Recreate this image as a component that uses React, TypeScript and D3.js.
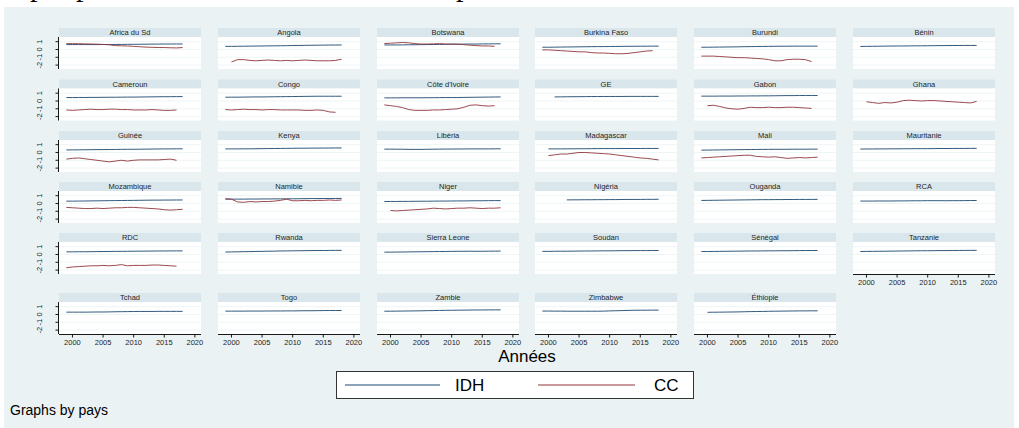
import React from 'react';
import * as d3 from 'd3';

// ---------- data ----------
const years = [1999, 2000, 2001, 2002, 2003, 2004, 2005, 2006, 2007, 2008, 2009, 2010, 2011, 2012, 2013, 2014, 2015, 2016, 2017, 2018];
const xTicks = [2000, 2005, 2010, 2015, 2020];
const yTicks = [-2, -1, 0, 1];

const countries = [
  'Africa du Sd', 'Angola', 'Botswana', 'Burkina Faso', 'Burundi', 'Bénin',
  'Cameroun', 'Congo', "Côte d'Ivoire", 'GE', 'Gabon', 'Ghana',
  'Guinée', 'Kenya', 'Libéria', 'Madagascar', 'Mali', 'Mauritanie',
  'Mozambique', 'Namibie', 'Niger', 'Nigéria', 'Ouganda', 'RCA',
  'RDC', 'Rwanda', 'Sierra Leone', 'Soudan', 'Sénégal', 'Tanzanie',
  'Tchad', 'Togo', 'Zambie', 'Zimbabwe', 'Éthiopie',
];

type S = (number | null)[];
const _ = null;

// IDH (1999..2018)
const idhAfriqueSud: S = [0.63, 0.63, 0.63, 0.63, 0.63, 0.63, 0.635, 0.64, 0.645, 0.65, 0.66, 0.665, 0.67, 0.68, 0.69, 0.695, 0.70, 0.70, 0.705, 0.705];
const idhAngola: S = [0.40, 0.40, 0.41, 0.42, 0.43, 0.44, 0.45, 0.46, 0.47, 0.48, 0.49, 0.51, 0.52, 0.53, 0.54, 0.55, 0.56, 0.57, 0.575, 0.58];
const idhBotswana: S = [0.58, 0.58, 0.58, 0.59, 0.60, 0.61, 0.62, 0.63, 0.64, 0.65, 0.66, 0.67, 0.68, 0.69, 0.70, 0.70, 0.71, 0.72, 0.72, 0.73];
const idhBurkina: S = [0.29, 0.29, 0.30, 0.31, 0.32, 0.33, 0.34, 0.35, 0.36, 0.37, 0.37, 0.38, 0.39, 0.40, 0.41, 0.41, 0.42, 0.42, 0.43, 0.43];
const idhBurundi: S = [0.29, 0.29, 0.30, 0.31, 0.32, 0.33, 0.34, 0.36, 0.37, 0.38, 0.39, 0.40, 0.41, 0.42, 0.42, 0.43, 0.43, 0.43, 0.43, 0.43];
const idhBenin: S = [0.39, 0.40, 0.41, 0.42, 0.43, 0.44, 0.45, 0.45, 0.46, 0.47, 0.47, 0.48, 0.49, 0.50, 0.50, 0.51, 0.51, 0.52, 0.52, 0.52];
const idhCameroun: S = [0.44, 0.44, 0.45, 0.45, 0.46, 0.46, 0.47, 0.48, 0.48, 0.49, 0.50, 0.50, 0.51, 0.52, 0.53, 0.54, 0.55, 0.55, 0.56, 0.56];
const idhCongo: S = [0.48, 0.49, 0.49, 0.50, 0.51, 0.52, 0.52, 0.53, 0.54, 0.55, 0.56, 0.57, 0.58, 0.59, 0.60, 0.61, 0.61, 0.61, 0.61, 0.61];
const idhCotedIvoire: S = [0.40, 0.40, 0.40, 0.41, 0.41, 0.41, 0.41, 0.42, 0.42, 0.43, 0.44, 0.44, 0.44, 0.46, 0.47, 0.48, 0.49, 0.50, 0.51, 0.52];
const idhGE: S = [_, _, 0.52, 0.53, 0.54, 0.55, 0.55, 0.56, 0.57, 0.57, 0.58, 0.58, 0.58, 0.58, 0.59, 0.59, 0.59, 0.59, 0.59, 0.59];
const idhGabon: S = [0.62, 0.62, 0.62, 0.63, 0.63, 0.63, 0.64, 0.64, 0.65, 0.65, 0.66, 0.66, 0.67, 0.68, 0.69, 0.69, 0.70, 0.70, 0.70, 0.70];
const idhGhana: S = [_, _, _, _, _, _, _, _, _, _, _, _, _, _, _, _, _, _, _, _];
const idhGuinee: S = [0.33, 0.33, 0.34, 0.35, 0.36, 0.37, 0.37, 0.38, 0.39, 0.40, 0.41, 0.41, 0.42, 0.43, 0.44, 0.45, 0.46, 0.46, 0.47, 0.47];
const idhKenya: S = [0.46, 0.46, 0.46, 0.47, 0.47, 0.48, 0.49, 0.50, 0.51, 0.52, 0.53, 0.54, 0.55, 0.55, 0.56, 0.56, 0.57, 0.57, 0.58, 0.58];
const idhLiberia: S = [0.43, 0.43, 0.42, 0.42, 0.40, 0.40, 0.40, 0.41, 0.42, 0.43, 0.44, 0.44, 0.45, 0.45, 0.46, 0.46, 0.46, 0.46, 0.47, 0.47];
const idhMadagascar: S = [_, 0.46, 0.46, 0.46, 0.47, 0.47, 0.48, 0.48, 0.49, 0.50, 0.50, 0.50, 0.50, 0.51, 0.51, 0.51, 0.51, 0.52, 0.52, 0.52];
const idhMali: S = [0.30, 0.31, 0.32, 0.33, 0.34, 0.35, 0.36, 0.37, 0.38, 0.39, 0.40, 0.40, 0.41, 0.41, 0.41, 0.42, 0.42, 0.42, 0.43, 0.43];
const idhMauritanie: S = [0.44, 0.45, 0.45, 0.46, 0.46, 0.47, 0.47, 0.48, 0.48, 0.49, 0.49, 0.49, 0.50, 0.51, 0.51, 0.52, 0.52, 0.52, 0.53, 0.53];
const idhMozambique: S = [0.30, 0.30, 0.31, 0.32, 0.33, 0.34, 0.35, 0.36, 0.37, 0.38, 0.39, 0.40, 0.41, 0.42, 0.43, 0.43, 0.44, 0.44, 0.45, 0.45];
const idhNamibie: S = [0.56, 0.56, 0.56, 0.56, 0.57, 0.57, 0.58, 0.58, 0.59, 0.59, 0.60, 0.60, 0.61, 0.62, 0.63, 0.63, 0.64, 0.64, 0.64, 0.65];
const idhNiger: S = [0.25, 0.26, 0.26, 0.27, 0.27, 0.28, 0.29, 0.29, 0.30, 0.31, 0.31, 0.32, 0.33, 0.33, 0.34, 0.35, 0.35, 0.36, 0.37, 0.37];
const idhNigeria: S = [_, _, _, _, 0.46, 0.47, 0.47, 0.48, 0.48, 0.49, 0.49, 0.50, 0.50, 0.51, 0.52, 0.52, 0.52, 0.53, 0.53, 0.54];
const idhOuganda: S = [0.39, 0.40, 0.41, 0.42, 0.43, 0.44, 0.45, 0.46, 0.47, 0.48, 0.49, 0.49, 0.50, 0.50, 0.51, 0.51, 0.52, 0.52, 0.52, 0.53];
const idhRCA: S = [0.31, 0.31, 0.31, 0.32, 0.32, 0.32, 0.33, 0.33, 0.34, 0.35, 0.35, 0.36, 0.36, 0.36, 0.35, 0.36, 0.36, 0.37, 0.38, 0.38];
const idhRDC: S = [0.34, 0.34, 0.35, 0.35, 0.36, 0.37, 0.38, 0.39, 0.40, 0.40, 0.41, 0.42, 0.43, 0.43, 0.44, 0.45, 0.45, 0.46, 0.46, 0.46];
const idhRwanda: S = [0.31, 0.33, 0.34, 0.36, 0.37, 0.39, 0.40, 0.42, 0.43, 0.45, 0.46, 0.47, 0.48, 0.49, 0.50, 0.51, 0.51, 0.52, 0.53, 0.53];
const idhSierraLeone: S = [0.30, 0.30, 0.31, 0.32, 0.33, 0.34, 0.35, 0.36, 0.37, 0.38, 0.39, 0.40, 0.41, 0.41, 0.42, 0.41, 0.41, 0.42, 0.43, 0.44];
const idhSoudan: S = [0.40, 0.40, 0.41, 0.42, 0.42, 0.43, 0.44, 0.45, 0.45, 0.46, 0.47, 0.47, 0.48, 0.49, 0.49, 0.50, 0.50, 0.50, 0.51, 0.51];
const idhSenegal: S = [0.38, 0.38, 0.39, 0.40, 0.41, 0.42, 0.43, 0.44, 0.45, 0.45, 0.46, 0.47, 0.47, 0.48, 0.48, 0.49, 0.50, 0.51, 0.51, 0.51];
const idhTanzanie: S = [0.38, 0.39, 0.40, 0.41, 0.42, 0.43, 0.44, 0.45, 0.46, 0.47, 0.48, 0.48, 0.49, 0.50, 0.50, 0.51, 0.52, 0.52, 0.53, 0.53];
const idhTchad: S = [0.30, 0.30, 0.30, 0.30, 0.31, 0.32, 0.32, 0.33, 0.35, 0.36, 0.37, 0.38, 0.39, 0.39, 0.39, 0.40, 0.40, 0.40, 0.40, 0.40];
const idhTogo: S = [0.43, 0.43, 0.43, 0.43, 0.44, 0.44, 0.44, 0.45, 0.45, 0.45, 0.46, 0.46, 0.47, 0.48, 0.48, 0.49, 0.50, 0.51, 0.51, 0.51];
const idhZambie: S = [0.42, 0.42, 0.43, 0.44, 0.45, 0.46, 0.47, 0.49, 0.50, 0.52, 0.53, 0.54, 0.55, 0.56, 0.57, 0.58, 0.58, 0.59, 0.59, 0.59];
const idhZimbabwe: S = [0.44, 0.44, 0.43, 0.43, 0.42, 0.42, 0.42, 0.42, 0.42, 0.42, 0.43, 0.46, 0.48, 0.50, 0.52, 0.54, 0.55, 0.55, 0.56, 0.56];
const idhEthiopie: S = [_, 0.28, 0.29, 0.30, 0.31, 0.32, 0.33, 0.35, 0.37, 0.38, 0.39, 0.41, 0.42, 0.43, 0.44, 0.45, 0.46, 0.46, 0.47, 0.47];

// CC (1999..2018)
const ccAfriqueSud: S = [0.75, 0.75, 0.74, 0.72, 0.7, 0.68, 0.65, 0.6, 0.5, 0.47, 0.45, 0.4, 0.35, 0.3, 0.28, 0.25, 0.25, 0.22, 0.2, 0.25];
const ccAngola: S = [_, -1.6, -1.3, -1.3, -1.4, -1.45, -1.4, -1.35, -1.4, -1.45, -1.4, -1.45, -1.4, -1.35, -1.4, -1.45, -1.45, -1.45, -1.4, -1.25];
const ccBotswana: S = [0.75, 0.8, 0.85, 0.9, 0.85, 0.75, 0.7, 0.7, 0.72, 0.75, 0.7, 0.7, 0.68, 0.62, 0.55, 0.5, 0.45, 0.45, 0.4, _];
const ccBurkina: S = [-0.05, -0.05, -0.1, -0.15, -0.2, -0.25, -0.3, -0.3, -0.4, -0.45, -0.45, -0.5, -0.55, -0.55, -0.5, -0.4, -0.3, -0.2, -0.15, _];
const ccBurundi: S = [-0.85, -0.85, -0.85, -0.9, -0.95, -1.0, -1.05, -1.05, -1.1, -1.15, -1.2, -1.3, -1.45, -1.45, -1.3, -1.25, -1.25, -1.3, -1.55, _];
const ccCameroun: S = [-1.15, -1.2, -1.15, -1.1, -1.05, -1.1, -1.1, -1.05, -1.05, -1.1, -1.1, -1.15, -1.15, -1.15, -1.1, -1.15, -1.2, -1.2, -1.15, _];
const ccCongo: S = [-1.1, -1.15, -1.1, -1.05, -1.1, -1.1, -1.15, -1.1, -1.1, -1.15, -1.15, -1.15, -1.15, -1.2, -1.2, -1.15, -1.2, -1.4, -1.45, _];
const ccCotedIvoire: S = [-0.5, -0.6, -0.7, -0.85, -1.1, -1.2, -1.2, -1.2, -1.15, -1.15, -1.1, -1.05, -1.0, -0.8, -0.55, -0.5, -0.6, -0.65, -0.6, _];
const ccGabon: S = [_, -0.6, -0.55, -0.7, -0.9, -1.0, -1.05, -0.95, -0.8, -0.85, -0.85, -0.8, -0.85, -0.85, -0.8, -0.8, -0.85, -0.9, -0.95, _];
const ccGhana: S = [_, -0.1, -0.2, -0.3, -0.2, -0.25, -0.15, 0.05, 0.1, 0.05, 0.0, 0.05, 0.05, 0.0, -0.05, -0.1, -0.15, -0.2, -0.25, -0.05];
const ccGuinee: S = [-0.85, -0.75, -0.7, -0.8, -0.9, -1.0, -1.1, -1.2, -1.1, -1.0, -1.1, -1.0, -0.95, -0.95, -0.95, -0.95, -0.9, -0.85, -1.0, _];
const ccMadagascar: S = [_, -0.4, -0.3, -0.2, -0.2, -0.1, 0.0, 0.0, -0.05, -0.1, -0.15, -0.2, -0.3, -0.4, -0.5, -0.6, -0.7, -0.75, -0.85, -0.95];
const ccMali: S = [-0.7, -0.65, -0.6, -0.55, -0.5, -0.45, -0.4, -0.35, -0.35, -0.5, -0.55, -0.6, -0.55, -0.65, -0.75, -0.7, -0.65, -0.7, -0.65, -0.6];
const ccMozambique: S = [-0.5, -0.55, -0.6, -0.65, -0.65, -0.6, -0.65, -0.6, -0.55, -0.55, -0.5, -0.5, -0.55, -0.6, -0.65, -0.7, -0.8, -0.85, -0.8, -0.75];
const ccNamibie: S = [0.6, 0.55, 0.2, 0.15, 0.25, 0.2, 0.25, 0.25, 0.3, 0.4, 0.55, 0.35, 0.35, 0.4, 0.35, 0.4, 0.4, 0.45, 0.4, 0.45];
const ccNiger: S = [_, -0.9, -0.95, -0.9, -0.85, -0.8, -0.75, -0.7, -0.6, -0.65, -0.7, -0.65, -0.6, -0.6, -0.55, -0.6, -0.65, -0.6, -0.6, -0.55];
const ccRDC: S = [-1.7, -1.6, -1.55, -1.5, -1.45, -1.45, -1.4, -1.45, -1.4, -1.3, -1.45, -1.4, -1.4, -1.4, -1.35, -1.35, -1.4, -1.45, -1.5, _];

const idhSeries: S[] = [
  idhAfriqueSud, idhAngola, idhBotswana, idhBurkina, idhBurundi, idhBenin,
  idhCameroun, idhCongo, idhCotedIvoire, idhGE, idhGabon, idhGhana,
  idhGuinee, idhKenya, idhLiberia, idhMadagascar, idhMali, idhMauritanie,
  idhMozambique, idhNamibie, idhNiger, idhNigeria, idhOuganda, idhRCA,
  idhRDC, idhRwanda, idhSierraLeone, idhSoudan, idhSenegal, idhTanzanie,
  idhTchad, idhTogo, idhZambie, idhZimbabwe, idhEthiopie,
];
const ccSeries: (S | null)[] = [
  ccAfriqueSud, ccAngola, ccBotswana, ccBurkina, ccBurundi, null,
  ccCameroun, ccCongo, ccCotedIvoire, null, ccGabon, ccGhana,
  ccGuinee, null, null, ccMadagascar, ccMali, null,
  ccMozambique, ccNamibie, ccNiger, null, null, null,
  ccRDC, null, null, null, null, null,
  null, null, null, null, null,
];

// ---------- layout ----------
const W = 1019, H = 428;
const colX = [59, 218, 377, 535, 694, 853];
const rowTop = [28, 79.5, 131, 182, 233, 293];
const PW = 142, STRIP = 9, PH = 32;
const BG = '#eaf2f3', STRIPC = '#d9e6eb', BLUE = '#1a476f', RED = '#90353b';
const FONT = 'Liberation Sans, Arial, sans-serif';

export default function App() {
  const x = d3.scaleLinear().domain([1997.8, 2021]).range([0, PW]);
  const y = d3.scaleLinear().domain([-2.5, 1.6]).range([PH, 0]);
  const line = d3.line<[number, number | null]>()
    .defined(d => d[1] != null)
    .x(d => x(d[0]))
    .y(d => y(d[1] as number));

  const panels = countries.map((name, i) => {
    const r = Math.floor(i / 6), c = i % 6;
    const x0 = colX[c], t = rowTop[r];
    const py = t + STRIP;
    const idh = idhSeries[i];
    const cc = ccSeries[i];
    const showX = r === 5 || i === 29;
    const showY = c === 0;
    return (
      <g key={name}>
        <rect x={x0} y={t} width={PW} height={STRIP} fill={STRIPC} />
        <text x={x0 + PW / 2} y={t + 7} fontSize={7.5} textAnchor="middle" fill="#1e1e1e" fontFamily={FONT}>{name}</text>
        <g transform={`translate(${x0},${py})`}>
          <rect x={0} y={0} width={PW} height={PH} fill="#fff" />
          {yTicks.map(v => (
            <line key={v} x1={0} x2={PW} y1={y(v)} y2={y(v)} stroke={BG} strokeWidth={0.8} />
          ))}
          <path d={line(years.map((yr, k) => [yr, idh[k]]) as any) || ''} fill="none" stroke={BLUE} strokeWidth={0.9} />
          {cc && (
            <path d={line(years.map((yr, k) => [yr, cc[k]]) as any) || ''} fill="none" stroke={RED} strokeWidth={0.9} />
          )}
          {showY && (
            <g>
              <line x1={-0.5} x2={-0.5} y1={0} y2={PH} stroke="#000" strokeWidth={0.9} />
              {yTicks.map(v => (
                <g key={v}>
                  <line x1={-3.5} x2={-0.5} y1={y(v)} y2={y(v)} stroke="#000" strokeWidth={0.9} />
                  <text transform={`translate(${-17},${y(v)}) rotate(-90)`} fontSize={7.5} textAnchor="middle" fill="#1e1e1e" fontFamily={FONT}>{v}</text>
                </g>
              ))}
            </g>
          )}
          {showX && (
            <g>
              <line x1={0} x2={PW} y1={PH + 0.5} y2={PH + 0.5} stroke="#000" strokeWidth={0.9} />
              {xTicks.map(v => (
                <g key={v}>
                  <line x1={x(v)} x2={x(v)} y1={PH + 0.5} y2={PH + 3.5} stroke="#000" strokeWidth={0.9} />
                  <text x={x(v)} y={PH + 11} fontSize={7.5} textAnchor="middle" fill="#1e1e1e" fontFamily={FONT}>{v}</text>
                </g>
              ))}
            </g>
          )}
        </g>
      </g>
    );
  });

  return (
    <div style={{ position: 'absolute', left: 0, top: 0 }}>
      <svg width={W} height={H} style={{ display: 'block' }}>
        <rect x={0} y={0} width={W} height={H} fill="#fff" />
        <text x={30} y={-4} fontSize={30} fontFamily="Liberation Serif, serif" fill="#000">p</text>
        <text x={76} y={-4} fontSize={30} fontFamily="Liberation Serif, serif" fill="#000">p</text>
        <text x={456} y={-4} fontSize={30} fontFamily="Liberation Serif, serif" fill="#000">p</text>
        <rect x={4} y={7} width={1010} height={H - 7} fill={BG} />
        {panels}
        <text x={527} y={362} fontSize={17} textAnchor="middle" fill="#000" fontFamily={FONT}>Années</text>
        <rect x={336.5} y={371.5} width={357} height={27} fill="#fff" stroke="#333" strokeWidth={1} />
        <line x1={345} x2={440} y1={385} y2={385} stroke={BLUE} strokeWidth={1.2} />
        <text x={455} y={391} fontSize={17} fill="#000" fontFamily={FONT}>IDH</text>
        <line x1={538} x2={635} y1={385} y2={385} stroke={RED} strokeWidth={1.2} />
        <text x={654} y={391} fontSize={17} fill="#000" fontFamily={FONT}>CC</text>
        <text x={10} y={415} fontSize={14} fill="#000" fontFamily={FONT}>Graphs by pays</text>
      </svg>
    </div>
  );
}
